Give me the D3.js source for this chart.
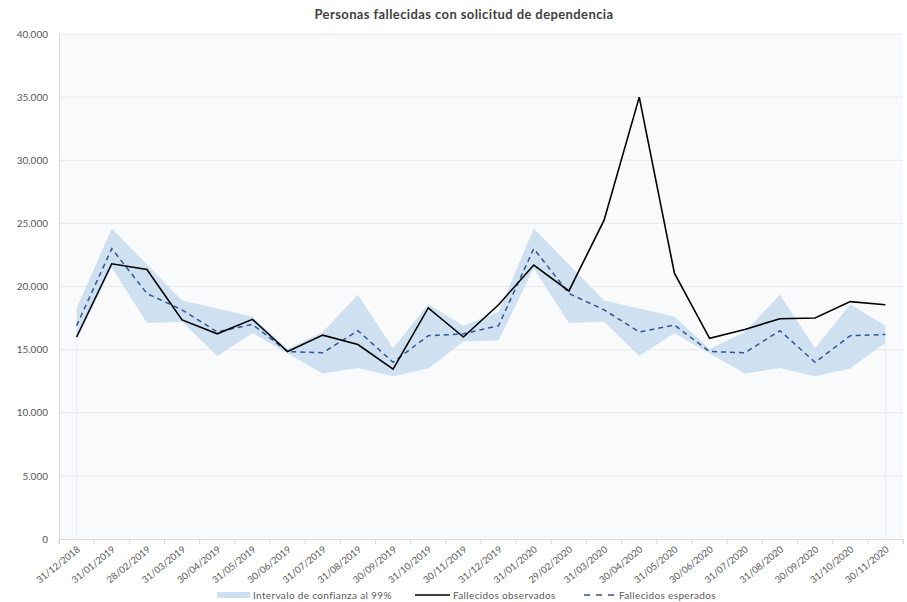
<!DOCTYPE html>
<meta charset="utf-8">
<style>
    body { margin: 0; background: #fff; }
    svg { font-family: Lato, "Open Sans", sans-serif; }
    .axis text { fill: #595959; }
    .axis path, .axis line { stroke: #d9d9d9; }
    .grid line { stroke: #e9e9ec; }
</style>
<svg width="907" height="602"></svg>
<script src="https://cdn.jsdelivr.net/npm/d3@7/dist/d3.min.js"></script>
<script>

    // months (end of month dates)
    var fechas = ["31/12/2018", "31/01/2019", "28/02/2019", "31/03/2019", "30/04/2019", "31/05/2019",
        "30/06/2019", "31/07/2019", "31/08/2019", "30/09/2019", "31/10/2019", "30/11/2019",
        "31/12/2019", "31/01/2020", "29/02/2020", "31/03/2020", "30/04/2020", "31/05/2020",
        "30/06/2020", "31/07/2020", "31/08/2020", "30/09/2020", "31/10/2020", "30/11/2020"];

    var observados = [16000, 21800, 21350, 17350, 16250, 17400, 14850, 16150, 15400, 13450, 18300, 16000,
        18550, 21700, 19650, 25250, 35000, 21050, 15900, 16600, 17450, 17500, 18800, 18550];

    var esperados = [16900, 23000, 19450, 18150, 16400, 17000, 14850, 14750, 16500, 14000, 16100, 16250,
        16900, 23000, 19450, 18150, 16400, 16950, 14850, 14750, 16500, 14000, 16100, 16200];

    var icSuperior = [18250, 24600, 21750, 18900, 18250, 17600, 15050, 16400, 19350, 15100, 18600, 16900,
        18000, 24600, 21750, 18900, 18250, 17600, 15050, 16400, 19350, 15100, 18600, 16900];

    var icInferior = [15750, 21500, 17100, 17200, 14500, 16300, 14700, 13100, 13550, 12900, 13500, 15650,
        15750, 21450, 17100, 17200, 14500, 16300, 14700, 13100, 13550, 12900, 13500, 15550];

    var yTicks = [0, 5000, 10000, 15000, 20000, 25000, 30000, 35000, 40000];

    var svg = d3.select("svg"),
        mLeft = 59, mRight = 903, mTop = 34, mBottom = 539;

    var es = d3.formatLocale({ decimal: ",", thousands: ".", grouping: [3], currency: ["", "€"] });
    var fmt = es.format(",");

    var x = d3.scaleBand().domain(fechas).range([mLeft, mRight]).padding(0);
    var y = d3.scaleLinear().domain([0, 40000]).range([mBottom, mTop]);
    var bw = x.bandwidth();
    function cx(i) { return x(fechas[i]) + bw / 2; }

    var rows = fechas.map(function(f, i) {
        return { f: f, obs: observados[i], esp: esperados[i], hi: icSuperior[i], lo: icInferior[i] };
    });

    // plot background
    svg.append("rect")
        .attr("x", mLeft).attr("y", mTop)
        .attr("width", mRight - mLeft).attr("height", mBottom - mTop)
        .attr("fill", "#f9fafc");

    // gridlines
    svg.append("g").attr("class", "grid")
        .selectAll("line")
        .data(yTicks.slice(1))
        .enter().append("line")
        .attr("x1", mLeft).attr("x2", mRight)
        .attr("y1", function(d) { return y(d); })
        .attr("y2", function(d) { return y(d); });

    // faint edges of the (stacked) base area
    svg.append("g").selectAll("line")
        .data([0, rows.length - 1])
        .enter().append("line")
        .attr("x1", function(i) { return cx(i); })
        .attr("x2", function(i) { return cx(i); })
        .attr("y1", function(i) { return y(icInferior[i]); })
        .attr("y2", y(0))
        .attr("stroke", "#e6edf6");

    // confidence band
    var band = d3.area()
        .x(function(d, i) { return cx(i); })
        .y0(function(d) { return y(d.lo); })
        .y1(function(d) { return y(d.hi); });

    svg.append("path")
        .datum(rows)
        .attr("d", band)
        .attr("fill", "#cfe0f1");

    // expected (dashed)
    svg.append("path")
        .datum(rows)
        .attr("d", d3.line().x(function(d, i) { return cx(i); }).y(function(d) { return y(d.esp); }))
        .attr("fill", "none")
        .attr("stroke", "#2f5597")
        .attr("stroke-width", 1.5)
        .attr("stroke-dasharray", "5,4");

    // observed
    svg.append("path")
        .datum(rows)
        .attr("d", d3.line().x(function(d, i) { return cx(i); }).y(function(d) { return y(d.obs); }))
        .attr("fill", "none")
        .attr("stroke", "#000")
        .attr("stroke-width", 1.6);

    // y axis
    var yAxis = svg.append("g").attr("class", "axis")
        .attr("transform", "translate(" + mLeft + ",0)")
        .call(d3.axisLeft(y).tickValues(yTicks).tickFormat(fmt).tickSize(0).tickPadding(11));
    yAxis.selectAll("text").attr("font-size", 10).attr("font-family", "Lato, sans-serif");

    // x axis
    var xAxis = svg.append("g").attr("class", "axis")
        .attr("transform", "translate(0," + mBottom + ")")
        .call(d3.axisBottom(x).tickSizeOuter(0).tickSize(5));
    xAxis.selectAll(".tick line").attr("x1", -bw / 2).attr("x2", -bw / 2);
    xAxis.append("line")
        .attr("x1", mRight).attr("x2", mRight).attr("y1", 0).attr("y2", 5)
        .attr("stroke", "#d9d9d9");
    xAxis.selectAll(".tick text")
        .attr("font-size", 9.5)
        .attr("font-family", "Lato, sans-serif")
        .attr("text-anchor", "end")
        .attr("x", 0).attr("y", 0)
        .attr("dy", "0.35em")
        .attr("transform", "translate(2,9) rotate(-39)");

    // title
    svg.append("text")
        .attr("x", 464).attr("y", 19)
        .attr("text-anchor", "middle")
        .attr("font-size", 13)
        .attr("font-weight", "bold")
        .attr("letter-spacing", "0.4px")
        .attr("fill", "#404040")
        .text("Personas fallecidas con solicitud de dependencia");

    // legend
    var legend = svg.append("g").attr("font-size", 10).attr("fill", "#595959").attr("letter-spacing", "0.35px");
    var ly = 595;
    legend.append("rect").attr("x", 217).attr("y", ly - 3).attr("width", 33).attr("height", 6).attr("fill", "#cfe0f1");
    legend.append("text").attr("x", 253).attr("y", ly + 3.5).text("Intervalo de confianza al 99%");
    legend.append("line").attr("x1", 415).attr("x2", 450).attr("y1", ly).attr("y2", ly)
        .attr("stroke", "#000").attr("stroke-width", 1.6);
    legend.append("text").attr("x", 453).attr("y", ly + 3.5).text("Fallecidos observados");
    legend.append("line").attr("x1", 584).attr("x2", 614).attr("y1", ly).attr("y2", ly)
        .attr("stroke", "#2f5597").attr("stroke-width", 1.5).attr("stroke-dasharray", "6,6");
    legend.append("text").attr("x", 619).attr("y", ly + 3.5).text("Fallecidos esperados");

</script>
